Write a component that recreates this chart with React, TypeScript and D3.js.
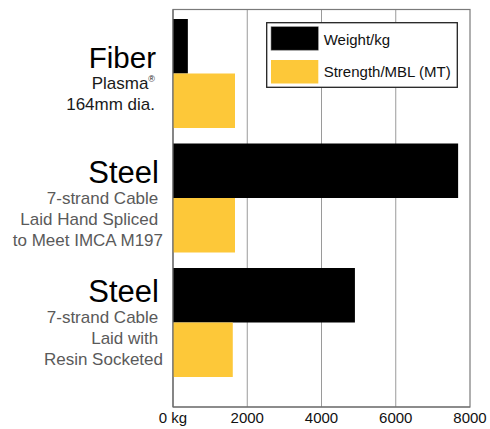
import React from "react";
import * as d3 from "d3";

const groups = ["fiber", "steelSpliced", "steelSocketed"];
const titles = ["Fiber", "Steel", "Steel"];
const subtitles = [
  ["Plasma", "164mm dia."],
  ["7-strand Cable\u00a0", "Laid Hand Spliced\u00a0", "to Meet IMCA M197"],
  ["7-strand Cable\u00a0", "Laid with\u00a0", "Resin Socketed"],
];
const weightKg = [400, 7680, 4900];
const strengthMT = [1670, 1670, 1610];
const seriesKeys = ["weight", "strength"];
const seriesNames = ["Weight/kg", "Strength/MBL (MT)"];
const tickValues = [0, 2000, 4000, 6000, 8000];
const tickLabels = ["0 kg", "2000", "4000", "6000", "8000"];

const W = 490;
const H = 429;
const FONT = "'Liberation Sans', Arial, Helvetica, sans-serif";
const colors = ["#000000", "#fdc839"];
const subColors = ["#1a1a1a", "#5a5a5a", "#5a5a5a"];
const labelNudge = [0, 0, -5];

export default function App() {
  const x = d3.scaleLinear().domain([0, 8000]).range([173, 470]);
  const y = d3.scaleBand<string>().domain(groups).range([19, 377]).paddingInner(0.1245);
  const inner = d3.scaleBand<string>().domain(seriesKeys).range([0, y.bandwidth()]);
  const values = [weightKg, strengthMT];
  const top = 9.5;
  const bottom = 407;

  return (
    <svg
      width={W}
      height={H}
      style={{ position: "absolute", left: 0, top: 0, background: "#fff" }}
      fontFamily={FONT}
    >
      <rect x={0} y={0} width={W} height={H} fill="#fff" />
      {/* gridlines */}
      {tickValues.slice(1, -1).map((t) => (
        <line key={t} x1={x(t)} x2={x(t)} y1={top} y2={bottom} stroke="#9a9a9a" strokeWidth={1} />
      ))}
      {/* frame */}
      <rect
        x={x(0)}
        y={top}
        width={x(8000) - x(0)}
        height={bottom - top}
        fill="none"
        stroke="#7a7a7a"
        strokeWidth={1.2}
      />
      {/* bars */}
      {groups.map((g, gi) =>
        seriesKeys.map((s, si) => (
          <rect
            key={g + s}
            x={x(0)}
            y={(y(g) as number) + (inner(s) as number)}
            width={x(values[si][gi]) - x(0)}
            height={inner.bandwidth()}
            fill={colors[si]}
          />
        ))
      )}
      {/* left axis line */}
      <line x1={x(0)} x2={x(0)} y1={top} y2={bottom} stroke="#6a6a6a" strokeWidth={1.2} />
      <line x1={x(0)} x2={x(8000)} y1={bottom} y2={bottom} stroke="#6a6a6a" strokeWidth={1.2} />
      {/* tick labels */}
      {tickValues.map((t, i) => (
        <text key={t} x={x(t)} y={423} textAnchor="middle" fontSize={15} fill="#111">
          {tickLabels[i]}
        </text>
      ))}
      {/* category labels */}
      {groups.map((g, gi) => {
        const center = (y(g) as number) + y.bandwidth() / 2;
        const n = subtitles[gi].length;
        const base = center - 10.5 * n + 16 + labelNudge[gi];
        const anchorX = gi === 0 ? 156 : 159;
        return (
          <g key={g}>
            <text x={anchorX} y={base} textAnchor="end" fontSize={gi === 0 ? 29.5 : 31} fill="#000">
              {titles[gi]}
            </text>
            {subtitles[gi].map((line, li) => (
              <text
                key={li}
                x={gi === 0 ? 155 : 163}
                y={base + 21 + li * 21}
                textAnchor="end"
                fontSize={17}
                fill={subColors[gi]}
              >
                {line}
                {gi === 0 && li === 0 ? (
                  <tspan fontSize={9} dy={-7}>
                    ®
                  </tspan>
                ) : null}
              </text>
            ))}
          </g>
        );
      })}
      {/* legend */}
      <g>
        <rect x={266.7} y={22.7} width={190.6} height={64.6} fill="#fff" stroke="#222" strokeWidth={1.3} />
        {seriesNames.map((name, i) => (
          <g key={name}>
            <rect
              x={271}
              y={26.7 + i * 33.3}
              width={47.3}
              height={23.5}
              fill={colors[i]}
              stroke={i === 0 ? "#888" : "none"}
              strokeWidth={0.6}
            />
            <text x={323.7} y={45 + i * 32.3} fontSize={15} fill="#111">
              {name}
            </text>
          </g>
        ))}
      </g>
    </svg>
  );
}
